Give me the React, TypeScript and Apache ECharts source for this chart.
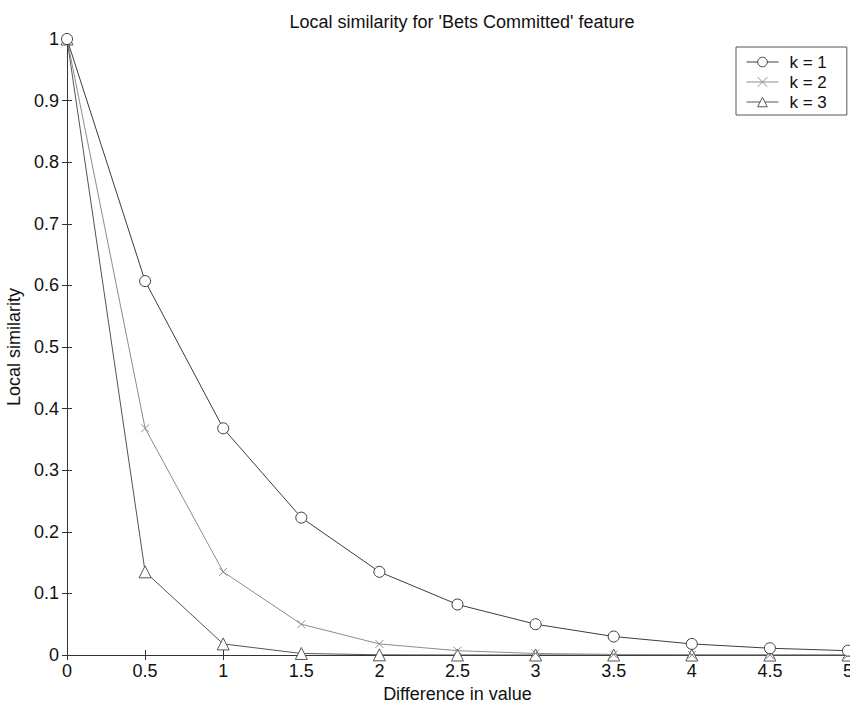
import React, { useEffect, useRef } from "react";
import * as echarts from "echarts";

const xValues = [0, 0.5, 1, 1.5, 2, 2.5, 3, 3.5, 4, 4.5, 5];
const k1 = [1, 0.607, 0.368, 0.223, 0.135, 0.082, 0.05, 0.03, 0.018, 0.011, 0.007];
const k2 = [1, 0.368, 0.135, 0.05, 0.018, 0.007, 0.0025, 0.001, 0.0003, 0.0001, 0.00005];
const k3 = [1, 0.135, 0.018, 0.0025, 0.0003, 0.00005, 0.00001, 0, 0, 0, 0];
const seriesNames = ["k = 1", "k = 2", "k = 3"];

const FONT = "'Liberation Sans', Arial, sans-serif";

export default function App() {
  const ref = useRef<HTMLDivElement>(null);
  useEffect(() => {
    if (!ref.current) return;
    const chart = echarts.init(ref.current, null, { renderer: "svg" });
    const mk = (vals: number[]) => xValues.map((x, i) => [x, vals[i]]);
    const axisLine = { show: true, lineStyle: { color: "#333", width: 1 } };
    const tick = { show: true, inside: true, length: 5, lineStyle: { color: "#333" } };
    const lbl = { color: "#111", fontSize: 18, fontFamily: FONT };
    const crossPath = "path://M0,0L10,10M10,0L0,10";
    const colors = ["#3c3c3c", "#8c8c8c", "#555555"];
    const symbols = ["circle", crossPath, "triangle"];
    const sizes = [11, 8, 12];
    const data = [k1, k2, k3];
    chart.setOption({
      animation: false,
      backgroundColor: "#fff",
      title: {
        text: "Local similarity for 'Bets Committed' feature",
        left: 457,
        textAlign: "center",
        top: 8,
        textStyle: { fontSize: 18, fontWeight: "normal", color: "#111", fontFamily: FONT },
      },
      grid: { left: 67, right: 2, top: 39, bottom: 49, containLabel: false, outerBoundsMode: "none" },
      legend: {
        orient: "vertical",
        left: 736,
        top: 47,
        padding: [6, 20, 4, 10],
        itemGap: 2,
        itemWidth: 32,
        itemHeight: 12,
        borderColor: "#555",
        borderWidth: 1,
        borderRadius: 0,
        backgroundColor: "#fff",
        itemStyle: { borderWidth: 1 },
        lineStyle: { width: 1 },
        textStyle: { fontSize: 17, lineHeight: 18, color: "#111", fontFamily: FONT, padding: [0, 0, 0, 6] },
        data: seriesNames,
      },
      xAxis: [
        {
          type: "value",
          min: 0,
          max: 5,
          interval: 0.5,
          name: "Difference in value",
          nameLocation: "middle",
          nameGap: 25,
          nameTextStyle: { fontSize: 18, color: "#111", fontFamily: FONT },
          axisLine,
          axisTick: tick,
          axisLabel: { ...lbl, margin: 7 },
          splitLine: { show: false },
        },
        {
          type: "value",
          position: "top",
          min: 0,
          max: 5,
          interval: 0.5,
          axisLine,
          axisTick: tick,
          axisLabel: { show: false },
          splitLine: { show: false },
        },
      ],
      yAxis: [
        {
          type: "value",
          min: 0,
          max: 1,
          interval: 0.1,
          name: "Local similarity",
          nameLocation: "middle",
          nameGap: 40,
          nameTextStyle: { fontSize: 18, color: "#111", fontFamily: FONT },
          axisLine,
          axisTick: tick,
          axisLabel: { ...lbl, margin: 8 },
          splitLine: { show: false },
        },
        {
          type: "value",
          position: "right",
          min: 0,
          max: 1,
          interval: 0.1,
          axisLine,
          axisTick: tick,
          axisLabel: { show: false },
          splitLine: { show: false },
        },
      ],
      series: seriesNames.map((name, i) => ({
        name,
        type: "line",
        xAxisIndex: 0,
        yAxisIndex: 0,
        data: mk(data[i]),
        symbol: symbols[i],
        symbolSize: sizes[i],
        showSymbol: true,
        lineStyle: { color: colors[i], width: 1 },
        itemStyle:
          i === 1
            ? { color: "none", borderColor: colors[i], borderWidth: 1 }
            : { color: "#fff", borderColor: colors[i], borderWidth: 1 },
        z: 3 - i,
      })),
    });
    return () => chart.dispose();
  }, []);
  return <div ref={ref} style={{ width: 850, height: 704, position: "absolute", left: 0, top: 0 }} />;
}
